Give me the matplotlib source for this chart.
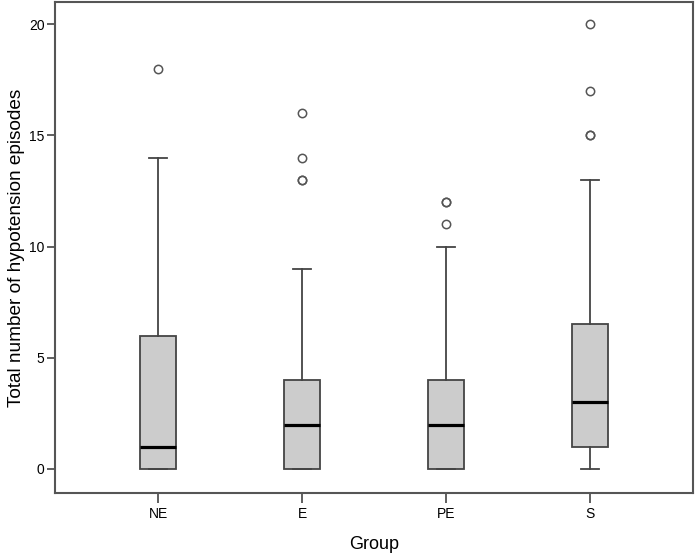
import numpy as np
import matplotlib.pyplot as plt

plt.rcParams['font.family'] = ['Liberation Sans', 'DejaVu Sans']

# datos
grupos = ['NE', 'E', 'PE', 'S']
q1 = [0, 0, 0, 1]
mediana = [1, 2, 2, 3]
q3 = [6, 4, 4, 6.5]
bigote_inf = [0, 0, 0, 0]
bigote_sup = [14, 9, 10, 13]
atipicos = [[18], [13, 13, 14, 16], [11, 12, 12], [15, 15, 17, 20]]

stats = []
for i in range(len(grupos)):
    stats.append({'label': grupos[i], 'q1': q1[i], 'med': mediana[i], 'q3': q3[i],
                  'whislo': bigote_inf[i], 'whishi': bigote_sup[i],
                  'fliers': atipicos[i]})

fig = plt.figure(figsize=(6.95, 5.54), dpi=100)
ax = fig.add_axes([55/695, 61/554, 638/695, 491/554])

gris = '#444444'
ax.bxp(stats, positions=np.arange(1, 5), widths=0.25, patch_artist=True,
       boxprops=dict(facecolor='#cccccc', edgecolor=gris, linewidth=1.3),
       medianprops=dict(color='black', linewidth=2.3),
       whiskerprops=dict(color=gris, linewidth=1.3),
       capprops=dict(color=gris, linewidth=1.3),
       capwidths=0.125,
       flierprops=dict(marker='o', markersize=6, markerfacecolor='none',
                       markeredgecolor='#555555', markeredgewidth=1.1))

ax.set_xlim(0.28, 4.72)
ax.set_ylim(-1.08, 21.0)
ax.set_yticks([0, 5, 10, 15, 20])
ax.set_yticklabels(['0', '5', '10', '15', '20'])

for s in ax.spines.values():
    s.set_color('#555555')
    s.set_linewidth(1.5)

ax.tick_params(axis='x', length=7, width=1.2, color=gris, labelsize=10, pad=3)
ax.tick_params(axis='y', length=6, width=1.2, color=gris, labelsize=10, pad=1.5)

ax.set_xlabel('Group', fontsize=13, labelpad=11)
ax.set_ylabel('Total number of hypotension episodes', fontsize=13.7, labelpad=3)

fig.savefig('out.png', dpi=100)
